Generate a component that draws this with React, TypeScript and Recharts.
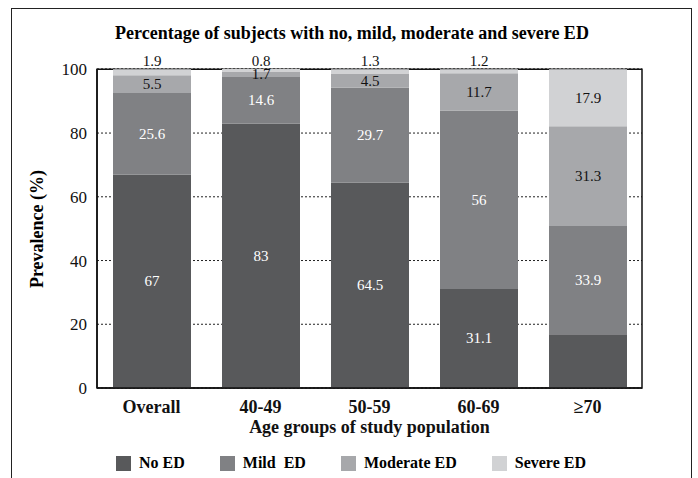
import React from "react";
import {
  BarChart,
  Bar,
  XAxis,
  YAxis,
  CartesianGrid,
  ReferenceArea,
  LabelList,
} from "recharts";

const ageGroups = ["Overall", "40-49", "50-59", "60-69", "≥70"];
const noEd = [67, 83, 64.5, 31.1, 16.9];
const mildEd = [25.6, 14.6, 29.7, 56, 33.9];
const moderateEd = [5.5, 1.7, 4.5, 11.7, 31.3];
const severeEd = [1.9, 0.8, 1.3, 1.2, 17.9];
const yTicks = [0, 20, 40, 60, 80, 100];

const seriesNames = ["No ED", "Mild  ED", "Moderate ED", "Severe ED"];
const seriesKeys = ["noEd", "mildEd", "moderateEd", "severeEd"];
const seriesColors = ["#58595b", "#808184", "#a7a8ab", "#d1d2d4"];

const FONT = "Times New Roman, Liberation Serif, Tinos, DejaVu Serif, serif";

const chartData = ageGroups.map((group, i) => ({
  group,
  noEd: noEd[i],
  mildEd: mildEd[i],
  moderateEd: moderateEd[i],
  severeEd: severeEd[i],
}));

// label inside the segment; tiny severe values sit on top of the bar
function makeLabel(color: string, minInside: number, hideBelow = 0) {
  return (props: any) => {
    const { x, y, width, height, value } = props;
    if (value == null || value < hideBelow) return null;
    const cx = Number(x) + Number(width) / 2;
    const cy = value < minInside ? Number(y) - 8 : Number(y) + Number(height) / 2;
    return (
      <text
        x={cx}
        y={cy}
        textAnchor="middle"
        dominantBaseline="central"
        fill={color}
        fontSize={15}
        fontFamily={FONT}
      >
        {value}
      </text>
    );
  };
}

export default function App() {
  return (
    <div
      style={{
        position: "absolute",
        left: 0,
        top: 0,
        width: 698,
        height: 478,
        overflow: "hidden",
        background: "#fff",
        fontFamily: FONT,
      }}
    >
      <div
        style={{
          position: "absolute",
          left: 11,
          top: 8,
          width: 679,
          height: 520,
          border: "1px solid #222",
        }}
      />
      <div
        style={{
          position: "absolute",
          left: 0,
          top: 23,
          width: 704,
          textAlign: "center",
          fontWeight: "bold",
          fontSize: 18,
        }}
      >
        Percentage of subjects with no, mild, moderate and severe ED
      </div>
      <div
        style={{
          position: "absolute",
          left: 37,
          top: 229,
          transform: "translate(-50%, -50%) rotate(-90deg)",
          whiteSpace: "nowrap",
          fontWeight: "bold",
          fontSize: 18,
        }}
      >
        Prevalence (%)
      </div>
      <div style={{ position: "absolute", left: 0, top: 0 }}>
        <BarChart
          width={698}
          height={478}
          data={chartData}
          margin={{ top: 69, right: 56, bottom: 30, left: 47 }}
          barSize={78}
        >
          <CartesianGrid
            vertical={false}
            stroke="#222"
            strokeDasharray="2 2"
          />
          <XAxis
            dataKey="group"
            height={60}
            tickLine={false}
            tickSize={0}
            tickMargin={12}
            axisLine={{ stroke: "#111", strokeWidth: 1.5 }}
            tick={{ fill: "#111", fontSize: 18, fontWeight: "bold", fontFamily: FONT }}
            label={{
              value: "Age groups of study population",
              position: "insideBottom",
              offset: 15,
              fill: "#111",
              fontSize: 18,
              fontWeight: "bold",
              fontFamily: FONT,
            }}
          />
          <YAxis
            width={50}
            domain={[0, 100]}
            ticks={yTicks}
            tickLine={false}
            tickSize={0}
            tickMargin={10}
            axisLine={{ stroke: "#111", strokeWidth: 1.5 }}
            tick={{ fill: "#111", fontSize: 17, fontFamily: FONT }}
          />
          {seriesKeys.map((key, i) => (
            <Bar
              key={key}
              dataKey={key}
              name={seriesNames[i]}
              stackId="ed"
              fill={seriesColors[i]}
              isAnimationActive={false}
            >
              <LabelList
                dataKey={key}
                content={
                  i === 0
                    ? makeLabel("#fff", 0, 20)
                    : i === 1
                    ? makeLabel("#fff", 0)
                    : i === 2
                    ? makeLabel("#111", 0)
                    : makeLabel("#111", 3)
                }
              />
            </Bar>
          ))}
          <ReferenceArea
            y1={0}
            y2={100}
            fill="none"
            fillOpacity={0}
            stroke="#111"
            strokeWidth={1.5}
            ifOverflow="visible"
          />
        </BarChart>
      </div>
      <div
        style={{
          position: "absolute",
          left: 116,
          top: 454,
          display: "flex",
          alignItems: "center",
          gap: 35,
          fontWeight: "bold",
          fontSize: 16,
          whiteSpace: "pre",
        }}
      >
        {seriesNames.map((name, i) => (
          <div key={name} style={{ display: "flex", alignItems: "center" }}>
            <span
              style={{
                display: "inline-block",
                width: 15,
                height: 15,
                background: seriesColors[i],
                marginRight: 8,
              }}
            />
            <span>{name}</span>
          </div>
        ))}
      </div>
    </div>
  );
}
